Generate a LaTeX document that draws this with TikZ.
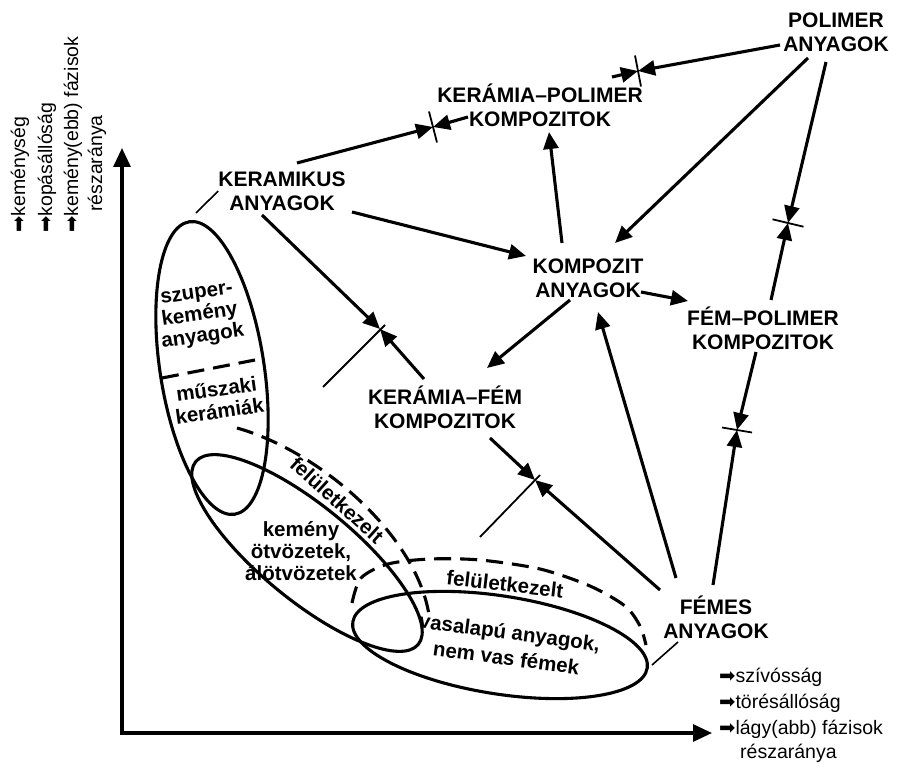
\documentclass[tikz,border=0pt]{standalone}
\usepackage{fontspec}
\setmainfont{Liberation Sans}
\newfontfamily\symfont{DejaVu Sans}
\usetikzlibrary{arrows.meta}
\newcommand{\rarr}{{\symfont ➡}}
\begin{document}
\begin{tikzpicture}[x=1pt,y=-1pt,
  lab/.style={font=\bfseries\fontsize{21}{24}\selectfont, align=center, inner sep=0pt},
  inl/.style={font=\bfseries\fontsize{20.5}{22}\selectfont, align=center, inner sep=0pt},
  axl/.style={font=\fontsize{19.5}{22}\selectfont, inner sep=0pt, anchor=west},
  arr/.style={line width=3.1pt, -{Triangle[length=17pt,width=15pt]}},
  axisline/.style={line width=3.1pt, {Triangle[length=19pt,width=17pt]}-{Triangle[length=19pt,width=17pt]}},
  tk/.style={line width=1.8pt},
  thinl/.style={line width=1.6pt},
  ell/.style={line width=3.1pt},
  dsh/.style={line width=3.1pt, dash pattern=on 17pt off 9pt},
]
\useasboundingbox (0,0) rectangle (899,767);

% axes
\coordinate (o) at (122,733);
\coordinate (ytip) at (122,148);
\coordinate (xtip) at (712,733);
\draw[axisline] (ytip) -- (o) -- (xtip);

\node[axl, rotate=90] (yl1) at (20,233) {\rarr keménység};
\node[axl, rotate=90] (yl2) at (47,233) {\rarr kopásállóság};
\node[axl, rotate=90] (yl3) at (73,233) {\rarr kemény(ebb) fázisok};
\node[axl, rotate=90] (yl4) at (97,212) {részaránya};

\node[axl] (xl1) at (719,677) {\rarr szívósság};
\node[axl] (xl2) at (719,703) {\rarr törésállóság};
\node[axl] (xl3) at (719,729) {\rarr lágy(abb) fázisok};
\node[axl] (xl4) at (740,753) {részaránya};

% main labels
\node[lab] (polimer) at (836,32) {POLIMER\\ANYAGOK};
\node[lab] (kerpol) at (540,105) {KERÁMIA–POLIMER\\KOMPOZITOK};
\node[lab] (keram) at (282,191) {KERAMIKUS\\ANYAGOK};
\node[lab] (kompozit) at (588,278) {KOMPOZIT\\ANYAGOK};
\node[lab] (fempol) at (763,328) {FÉM–POLIMER\\KOMPOZITOK};
\node[lab] (kerfem) at (445,407) {KERÁMIA–FÉM\\KOMPOZITOK};
\node[lab] (femes) at (716,617) {FÉMES\\ANYAGOK};

% ellipses
\draw[ell, rotate around={8.8:(212,368)}] (212,368) ellipse [x radius=52pt, y radius=148pt];
\draw[ell, rotate around={-39.4:(307,553)}] (307,553) ellipse [x radius=144pt, y radius=47pt];
\draw[ell, rotate around={-8.9:(500,645)}] (500,645) ellipse [x radius=149pt, y radius=49pt];

% dashed
\coordinate (d2a) at (162,378);
\coordinate (d2b) at (255,360);
\draw[dsh] (d2a) -- (d2b);
\coordinate (d1a) at (237,428);
\coordinate (d1b) at (429,615);
\draw[dsh] (d1a) .. controls (322,452) and (417,537) .. (d1b);
\draw[dsh] plot[smooth] coordinates {(352,603) (361,578) (388,564) (430,559) (480,560) (540,569) (590,586) (625,606) (640,626) (646,645)};

% inner texts
\node[inl, rotate=8] (szuper) at (200,317) {szuper-\\kemény\\anyagok};
\node[inl, rotate=8] (muszaki) at (218,400) {műszaki\\kerámiák};
\node[inl] (kemeny) at (301,551) {kemény\\ötvözetek,\\álötvözetek};
\node[inl, rotate=-7.5, font=\bfseries\fontsize{20.5}{26}\selectfont] (vasal) at (508,645) {vasalapú anyagok,\\nem vas fémek};
\node[inl, rotate=-42] (fel1) at (337,500) {felületkezelt};
\node[inl, rotate=-6.5] (fel2) at (505,584) {felületkezelt};

% label connectors
\coordinate (ka) at (196,213);
\draw[thinl] (keram.west) -- (ka);
\coordinate (fa) at (678,642);
\coordinate (fb) at (652,665);
\draw[thinl] (fa) -- (fb);

% arrows
\coordinate (t1) at (433,127);
\coordinate (c1) at (297,163);
\coordinate (c2) at (468,117);
\draw[arr] (c1) -- (t1);
\draw[arr] (c2) -- (t1);
\draw[tk] (t1) ++(-4,-15.5) -- ++(8,31);

\coordinate (t2) at (638,71);
\coordinate (c3) at (780,45);
\coordinate (c4) at (612,77);
\draw[arr] (c3) -- (t2);
\draw[arr] (c4) -- (t2);
\draw[tk] (t2) ++(-3,-15.5) -- ++(6,31);

\coordinate (c5) at (808,58);
\coordinate (e5) at (615,243);
\draw[arr] (c5) -- (e5);

\coordinate (t3) at (788,223);
\coordinate (c6) at (826,62);
\coordinate (c7) at (771,300);
\draw[arr] (c6) -- (t3);
\draw[arr] (c7) -- (t3);
\draw[tk] (t3) ++(-15.5,-3.7) -- ++(31,7.4);

\coordinate (t4) at (737,430);
\coordinate (c8) at (756,352);
\coordinate (c9) at (713,585);
\draw[arr] (c8) -- (t4);
\draw[arr] (c9) -- (t4);
\draw[tk] (t4) ++(-15,-2.5) -- ++(30,5);

\coordinate (c10) at (352,212);
\coordinate (e10) at (526,256);
\draw[arr] (c10) -- (e10);

\coordinate (c11) at (562,243);
\coordinate (e11) at (549,132);
\draw[arr] (c11) -- (e11);

\coordinate (c12) at (641,292);
\coordinate (e12) at (688,301);
\draw[arr] (c12) -- (e12);

\coordinate (c13) at (570,300);
\coordinate (e13) at (487,368);
\draw[arr] (c13) -- (e13);

\coordinate (t5) at (380,329);
\coordinate (c14) at (262,215);
\coordinate (c15) at (424,379);
\draw[arr] (c14) -- (t5);
\draw[arr] (c15) -- (t5);
\draw[tk] (t5) ++(5,-4) -- ++(-62,62);

\coordinate (t6) at (535,480);
\coordinate (c16) at (490,438);
\coordinate (c17) at (660,590);
\draw[arr] (c16) -- (t6);
\draw[arr] (c17) -- (t6);
\draw[tk] (t6) ++(5,-5) -- ++(-60,62);

\coordinate (c18) at (676,578);
\coordinate (e18) at (598,312);
\draw[arr] (c18) -- (e18);
\end{tikzpicture}
\end{document}
